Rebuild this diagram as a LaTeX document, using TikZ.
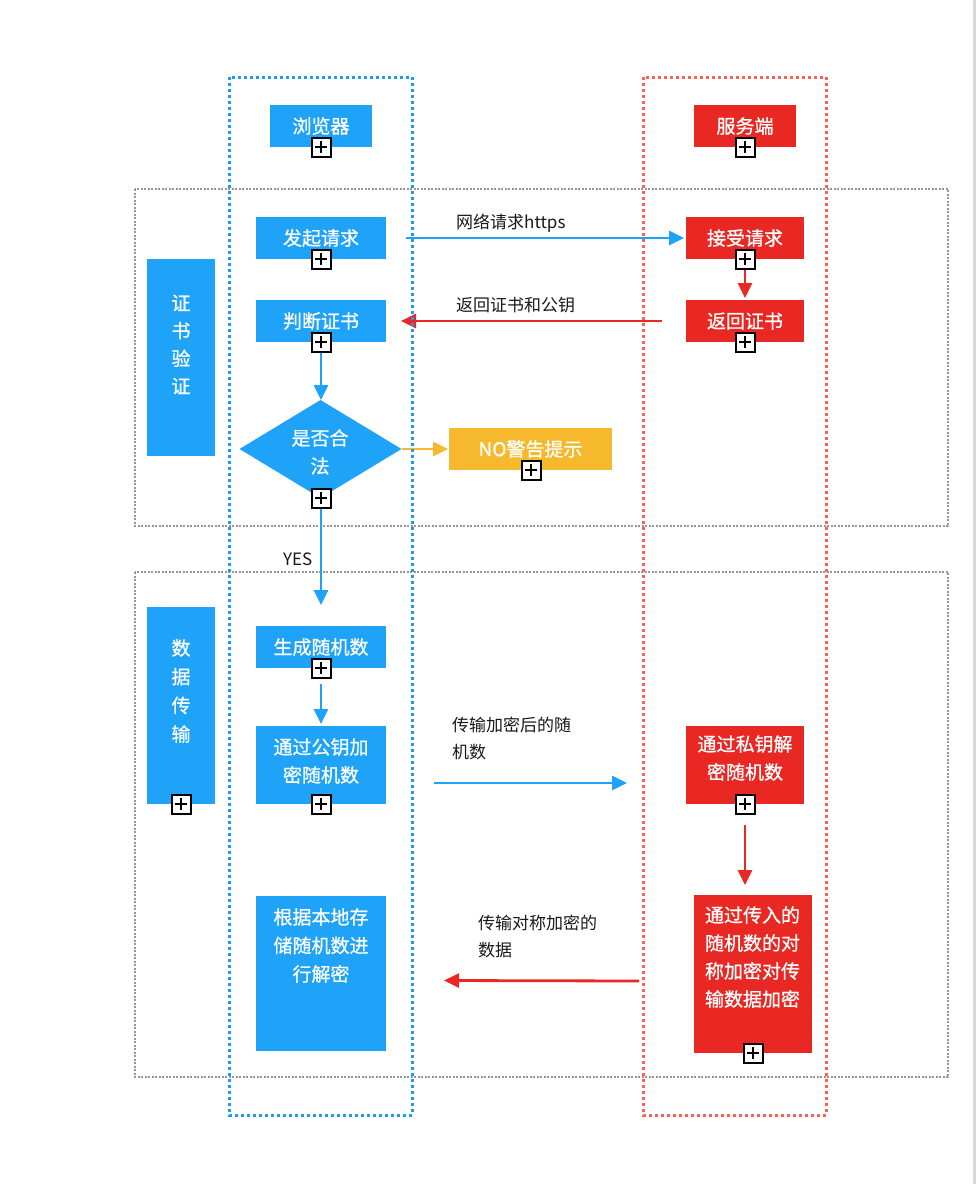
\documentclass[tikz,border=0pt]{standalone}
\usepackage{fontspec}
\setmainfont{Noto Sans CJK SC}
\newfontfamily\bxfam[FakeBold=0.8]{Noto Sans CJK SC}
\usetikzlibrary{arrows.meta,shapes.geometric}
\definecolor{cblue}{RGB}{30,163,248}
\definecolor{cred}{RGB}{233,39,35}
\definecolor{cyel}{RGB}{246,185,45}
\definecolor{cfblue}{RGB}{30,155,240}
\definecolor{cfred}{RGB}{255,95,85}
\definecolor{cgray}{RGB}{150,150,150}
\definecolor{cedge}{RGB}{216,216,216}
\newcommand\bxfont{\bxfam\fontsize{19}{28}\selectfont}
\newcommand\lbfont{\fontsize{17}{26.7}\selectfont}
\newcommand\plusat[2]{%
  \node[pbox] (#1) at #2 {};
  \draw[line width=1.6pt] ([xshift=3.5pt]#1.west) -- ([xshift=-3.5pt]#1.east)
    ([yshift=-3.5pt]#1.north) -- ([yshift=3.5pt]#1.south);}
\begin{document}
\begin{tikzpicture}[x=1pt,y=-1pt,
  bbox/.style={fill=cblue,draw=none,inner sep=0pt,outer sep=0pt,text=white,font=\bxfont,align=center},
  rbox/.style={bbox,fill=cred},
  ybox/.style={bbox,fill=cyel},
  wtxt/.style={text=white,font=\bxfont,align=center,inner sep=0pt},
  lbl/.style={font=\lbfont,align=left,anchor=west,inner sep=0pt,text=black!90},
  pbox/.style={draw=black,fill=white,line width=2pt,minimum size=19pt,inner sep=0pt,outer sep=0pt},
  arr/.style={line width=2.8pt,-{Triangle[length=15pt,width=14pt]}},
  gframe/.style={draw=cgray,line width=1.5pt,dash pattern=on 2pt off 1.5pt},
  bframe/.style={draw=cfblue,line width=3pt,dash pattern=on 3pt off 3pt},
  rframe/.style={draw=cfred,line width=3pt,dash pattern=on 3pt off 3pt},
]
\useasboundingbox (0,0) rectangle (976,1184);
\fill[white] (0,0) rectangle (976,1184);
\fill[cedge] (972.5,0) rectangle (976,1184);

% section frames
\draw[gframe] (135,189) rectangle (948,526);
\draw[gframe] (135,572) rectangle (948,1077);

% headers
\node[bbox,minimum width=102pt,minimum height=42pt] (llq) at (321,126) {浏览器};
\node[rbox,minimum width=102pt,minimum height=42pt] (fwd) at (745,126) {服务端};

% section 1
\node[bbox,minimum width=68pt,minimum height=197pt] (side1) at (181,357.5) {};
\node[wtxt,font=\bxfam\fontsize{19}{27.7}\selectfont] (side1t) at (181,344.5) {证\\书\\验\\证};
\node[bbox,minimum width=130pt,minimum height=42pt] (fq) at (321,238) {发起请求};
\node[rbox,minimum width=118pt,minimum height=42pt] (js) at (745,238) {接受请求};
\node[bbox,minimum width=130pt,minimum height=42pt] (pd) at (321,321) {判断证书};
\node[rbox,minimum width=118pt,minimum height=42pt] (fh) at (745,321) {返回证书};
\node[diamond,fill=cblue,inner sep=0pt,outer sep=0pt,minimum width=162pt,minimum height=98pt] (dm) at (320.5,449) {};
\node[wtxt] (dmt) at (320,452) {是否合\\法};
\node[ybox,minimum width=163pt,minimum height=42pt] (no) at (530.5,449) {NO警告提示};

% section 2
\node[bbox,minimum width=68pt,minimum height=197pt] (side2) at (181,705.5) {};
\node[wtxt,font=\bxfam\fontsize{19}{28.7}\selectfont] (side2t) at (181,691) {数\\据\\传\\输};
\node[bbox,minimum width=130pt,minimum height=42pt] (sc) at (321,647) {生成随机数};
\node[bbox,minimum width=130pt,minimum height=78pt] (gy) at (321,765) {};
\node[wtxt] (gyt) at (321,761) {通过公钥加\\密随机数};
\node[rbox,minimum width=118pt,minimum height=78pt] (sy) at (745,765) {};
\node[wtxt] (syt) at (745,758) {通过私钥解\\密随机数};
\node[rbox,minimum width=118pt,minimum height=158pt] (cr) at (753,974) {};
\node[wtxt] (crt) at (752.5,957) {通过传入的\\随机数的对\\称加密对传\\输数据加密};
\node[bbox,minimum width=130pt,minimum height=155pt] (jm) at (321,973.5) {};
\node[wtxt,font=\bxfam\fontsize{19}{28.5}\selectfont] (jmt) at (321,945.5) {根据本地存\\储随机数进\\行解密};

% connectors
\draw[arr,cblue,shorten <=20pt,shorten >=2pt] (fq.east) -- (js.west);
\draw[arr,cred,shorten <=24pt,shorten >=15pt] (fh.west) -- (pd.east);
\draw[arr,cred,shorten <=11pt,shorten >=2pt] (js.south) -- (fh.north);
\draw[arr,cblue] (pd.south) -- (pd.south |- dm.north);
\draw[arr,cyel,shorten >=1pt] (dm.east) -- (no.west);
\draw[arr,cblue,shorten >=21pt] (sc.north |- dm.south) -- (sc.north);
\draw[arr,cblue,shorten <=16pt,shorten >=2pt] (sc.south) -- (gy.north);
\draw[arr,cblue] ([shift={(48,18)}]gy.east) -- ([shift={(-59,18)}]sy.west);
\draw[arr,cred,shorten <=21pt,shorten >=10pt] (sy.south) -- (sy.south |- cr.north);
\draw[arr,cred] ([shift={(-55,7)}]cr.west) -- ([shift={(58,7)}]jm.east);

% labels
\node[lbl] (l1) at (456,223) {网络请求https};
\node[lbl] (l2) at (456,305) {返回证书和公钥};
\node[lbl] (yes) at (283,559) {YES};
\node[lbl] (l3) at (452,738.5) {传输加密后的随\\机数};
\node[lbl] (l4) at (478,936.5) {传输对称加密的\\数据};

% lanes
\draw[bframe] (229,77) rectangle (412,1115);
\draw[rframe] (643,77) rectangle (826,1115);

% expand icons
\plusat{p1}{(321,147)}
\plusat{p2}{(745,147)}
\plusat{p3}{(321,259)}
\plusat{p4}{(745,259)}
\plusat{p5}{(321,342)}
\plusat{p6}{(745,342)}
\plusat{p7}{(321,498)}
\plusat{p8}{(531,470)}
\plusat{p9}{(321,668)}
\plusat{p10}{(321,804)}
\plusat{p11}{(181,804)}
\plusat{p12}{(745,804)}
\plusat{p13}{(753,1053)}
\end{tikzpicture}
\end{document}
